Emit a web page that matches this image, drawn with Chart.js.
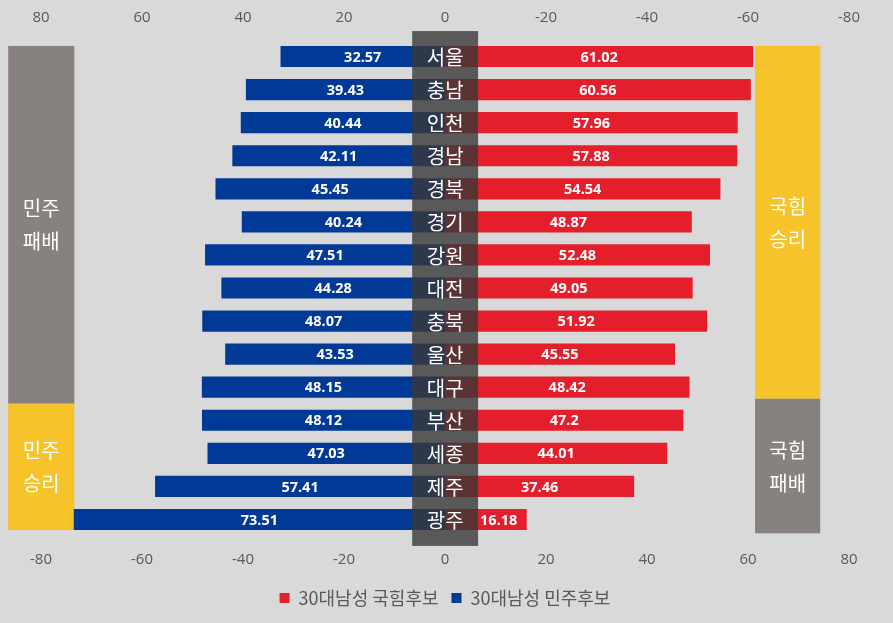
<!DOCTYPE html>
<html>
<head>
<meta charset="utf-8">
<script src="https://cdn.jsdelivr.net/npm/chart.js@4"></script>
<style>
  html, body { margin: 0; padding: 0; background: #d9d9d9; }
  #wrap { width: 893px; height: 623px; }
</style>
</head>
<body>
<div id="wrap"><canvas id="butterfly"></canvas></div>
<script>
// 지역별 30대 남성 득표율
const regions = ['서울', '충남', '인천', '경남', '경북', '경기', '강원', '대전', '충북', '울산', '대구', '부산', '세종', '제주', '광주'];
const ppp = [61.02, 60.56, 57.96, 57.88, 54.54, 48.87, 52.48, 49.05, 51.92, 45.55, 48.42, 47.2, 44.01, 37.46, 16.18];
const dem = [32.57, 39.43, 40.44, 42.11, 45.45, 40.24, 47.51, 44.28, 48.07, 43.53, 48.15, 48.12, 47.03, 57.41, 73.51];
const seriesNames = ['30대남성 국힘후보', '30대남성 민주후보'];
const tickValues = [-80, -60, -40, -20, 0, 20, 40, 60, 80];

const RED = '#e41e2b';
const BLUE = '#003a96';
const YELLOW = '#f6c32b';
const GREY = '#878280';
const TXT = '#595959';
const KR = '"Noto Sans CJK KR", "Noto Sans", sans-serif';

// 옆 박스 (값 단위)
const sideBoxes = [
  { x0: -86.5, x1: -73.4, y0: -0.32, y1: 10.5, color: GREY, text: ['민주', '패배'] },
  { x0: -86.5, x1: -73.4, y0: 10.5, y1: 14.32, color: YELLOW, text: ['민주', '승리'] },
  { x0: 61.4, x1: 74.3, y0: -0.32, y1: 10.35, color: YELLOW, text: ['국힘', '승리'] },
  { x0: 61.4, x1: 74.3, y0: 10.35, y1: 14.42, color: GREY, text: ['국힘', '패배'] }
];

const decorPlugin = {
    id: 'decor',
    beforeDatasetsDraw(chart) {
        const { ctx, scales: { x, y } } = chart;
        ctx.save();
        sideBoxes.forEach(b => {
            const l = x.getPixelForValue(b.x0), r = x.getPixelForValue(b.x1);
            const t = y.getPixelForValue(b.y0), btm = y.getPixelForValue(b.y1);
            ctx.fillStyle = b.color;
            ctx.fillRect(l, t, r - l, btm - t);
            ctx.fillStyle = '#ffffff';
            ctx.font = '20px ' + KR;
            ctx.textAlign = 'center';
            ctx.textBaseline = 'middle';
            const cx = (l + r) / 2, cy = (t + btm) / 2;
            ctx.fillText(b.text[0], cx, cy - 16);
            ctx.fillText(b.text[1], cx, cy + 17);
        });
        ctx.restore();
    },
    afterDatasetsDraw(chart) {
        const { ctx, scales: { x, y } } = chart;
        ctx.save();
        // 값 라벨
        ctx.font = 'bold 14.5px "Open Sans", sans-serif';
        ctx.textBaseline = 'middle';
        ctx.textAlign = 'center';
        ctx.fillStyle = '#ffffff';
        const bandL = x.getPixelForValue(-6.5), bandR = x.getPixelForValue(6.55);
        chart.data.datasets.forEach((ds, di) => {
            chart.getDatasetMeta(di).data.forEach((bar, i) => {
                const txt = String(Math.abs(ds.data[i]));
                const w = ctx.measureText(txt).width;
                let cx = (bar.x + bar.base) / 2;
                if (ds.data[i] > 0) cx = Math.max(cx, bandR + w / 2 + 2);
                else cx = Math.min(cx, bandL - w / 2 - 2);
                ctx.fillText(txt, cx, bar.y + 1);
            });
        });
        // 가운데 띠
        const t = y.getPixelForValue(-0.77), b = y.getPixelForValue(14.8);
        ctx.fillStyle = 'rgba(58, 56, 56, 0.8)';
        ctx.fillRect(bandL, t, bandR - bandL, b - t);
        ctx.fillStyle = '#ffffff';
        ctx.font = '20px ' + KR;
        regions.forEach((r, i) => {
            ctx.fillText(r, (bandL + bandR) / 2, y.getPixelForValue(i) + 1);
        });
        ctx.restore();
    }
};

const tickFont = { family: '"Open Sans", sans-serif', size: 15 };

new Chart(document.getElementById('butterfly'), {
    type: 'bar',
    data: {
        labels: regions,
        datasets: [
            { label: seriesNames[0], data: ppp, backgroundColor: RED, barPercentage: 0.64, categoryPercentage: 1 },
            { label: seriesNames[1], data: dem.map(v => -v), backgroundColor: BLUE, barPercentage: 0.64, categoryPercentage: 1 }
        ]
    },
    options: {
        indexAxis: 'y',
        responsive: true,
        maintainAspectRatio: false,
        animation: false,
        layout: { padding: { left: 41, right: 44, top: 4, bottom: 6 } },
        scales: {
            x: {
                stacked: true, min: -80, max: 80,
                afterBuildTicks: s => { s.ticks = tickValues.map(v => ({ value: v })); },
                grid: { display: false }, border: { display: false },
                ticks: { color: TXT, font: tickFont, padding: 7 }
            },
            x2: {
                position: 'top', min: -80, max: 80,
                afterBuildTicks: s => { s.ticks = tickValues.map(v => ({ value: v })); },
                grid: { display: false }, border: { display: false },
                ticks: { color: TXT, font: tickFont, padding: 5, callback: v => String(-v === 0 ? 0 : -v) }
            },
            y: {
                stacked: true, display: false
            }
        },
        plugins: {
            legend: {
                position: 'bottom',
                labels: {
                    color: TXT, boxWidth: 10, boxHeight: 10, padding: 13,
                    font: { family: KR, size: 18 }
                }
            },
            tooltip: { enabled: false }
        }
    },
    plugins: [decorPlugin]
});
</script>
</body>
</html>
